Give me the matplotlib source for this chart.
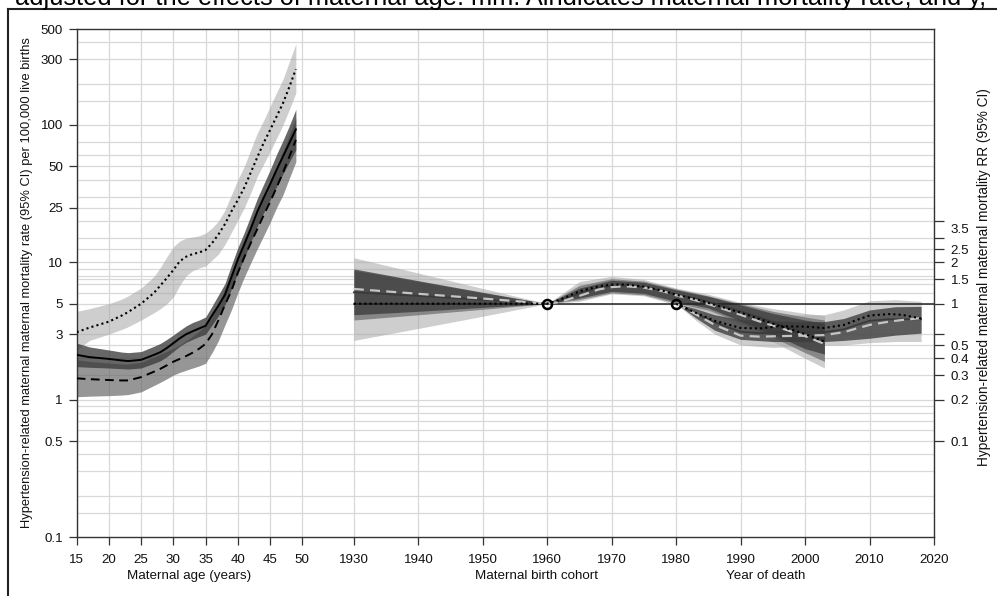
import matplotlib
matplotlib.use("Agg")
import matplotlib.pyplot as plt
from matplotlib.lines import Line2D
from matplotlib.ticker import NullLocator, NullFormatter

plt.rcParams['font.family'] = ['Liberation Sans', 'DejaVu Sans']

# ---------------- data ----------------
title_text = "adjusted for the effects of maternal age. mm: Aindicates maternal mortality rate, and y, "
ylabel_left = "Hypertension-related maternal maternal mortality rate (95% CI) per 100,000 live births"
ylabel_right = "Hypertension-related maternal maternal mortality RR (95% CI)"

age_ticks = [15, 20, 25, 30, 35, 40, 45, 50]
year_ticks = [1930, 1940, 1950, 1960, 1970, 1980, 1990, 2000, 2010, 2020]
rate_ticks = [0.1, 0.5, 1, 3, 5, 10, 25, 50, 100, 300, 500]
rate_grid = [0.15, 0.2, 0.3, 0.4, 0.5, 0.6, 0.7, 0.8, 0.9, 1, 1.5, 2, 2.5, 3, 5, 6, 7, 7.5, 8, 9,
             10, 12.5, 15, 20, 25, 30, 40, 50, 60, 75, 100, 150, 200, 300, 400]
rr_tick_marks = [0.1, 0.2, 0.3, 0.4, 0.5, 0.6, 1, 1.5, 2, 2.5, 3, 4]
rr_tick_labels = [0.1, 0.2, 0.3, 0.4, 0.5, 1, 1.5, 2, 2.5, 3.5]

# Age effects (rate per 100,000)
age = [15, 17, 20, 22, 23, 25, 27, 28, 29, 30, 31, 32, 33, 34, 35, 36, 37, 38, 39, 40,
       41, 42, 43, 44, 45, 46, 47, 48, 49]
age_dot = [3.1, 3.35, 3.7, 4.1, 4.35, 5.0, 6.0, 6.8, 7.7, 8.8, 10.2, 11.0, 11.5, 11.8, 12.3,
           13.8, 16.0, 19.0, 23.5, 28.5, 35, 45, 58, 74, 92, 115, 144, 190, 255]
age_dot_up = [4.4, 4.6, 5.0, 5.4, 5.7, 6.5, 7.9, 9.2, 11.0, 13.0, 14.3, 15.0, 15.3, 15.6, 16.3,
              17.8, 20.0, 24.0, 31.0, 40, 50, 66, 87, 108, 136, 172, 215, 290, 390]
age_dot_lo = [2.3, 2.7, 3.0, 3.25, 3.4, 3.8, 4.3, 4.6, 5.0, 5.6, 6.8, 8.0, 8.7, 9.1, 9.4,
              10.4, 11.5, 13.5, 16.5, 20.3, 25, 32, 42, 52, 64, 80, 100, 130, 171]
age_sol = [2.12, 2.04, 1.98, 1.93, 1.91, 1.95, 2.12, 2.22, 2.38, 2.58, 2.8, 3.0, 3.15, 3.3, 3.45,
           4.1, 4.85, 5.8, 7.8, 10.5, 13.5, 17.6, 23.3, 29.5, 37, 47, 59, 74, 93]
age_sol_up = [2.58, 2.42, 2.3, 2.22, 2.2, 2.24, 2.45, 2.57, 2.75, 2.96, 3.2, 3.45, 3.65, 3.8, 4.0,
              4.8, 5.8, 7.0, 9.5, 12.8, 16.5, 21.8, 29, 37, 47, 61, 77, 99, 130]
age_sol_lo = [1.74, 1.72, 1.70, 1.68, 1.67, 1.70, 1.84, 1.92, 2.06, 2.25, 2.45, 2.62, 2.75, 2.88, 3.0,
              3.5, 4.1, 4.9, 6.4, 8.4, 10.8, 14.0, 18.3, 23, 28.5, 35.5, 44, 54, 66]
age_dash = [1.43, 1.41, 1.39, 1.38, 1.38, 1.46, 1.6, 1.68, 1.78, 1.89, 1.98, 2.08, 2.2, 2.35, 2.55,
            3.0, 3.8, 4.9, 6.2, 8.4, 10.9, 13.8, 17.4, 22, 27.5, 35, 45, 59, 78]
age_dash_up = [1.95, 1.9, 1.85, 1.82, 1.82, 1.87, 2.05, 2.15, 2.25, 2.36, 2.5, 2.7, 2.9, 3.15, 3.45,
               4.0, 5.0, 6.5, 8.4, 11.3, 14.8, 18.8, 24, 30.5, 39, 50, 64, 85, 112]
age_dash_lo = [1.05, 1.06, 1.07, 1.08, 1.09, 1.14, 1.27, 1.34, 1.42, 1.51, 1.58, 1.64, 1.7, 1.76, 1.84,
               2.2, 2.7, 3.5, 4.5, 6.0, 7.8, 9.9, 12.5, 15.6, 19.5, 25, 31, 41, 54]

# Cohort effects (RR)
coh_year = [1930, 1940, 1950, 1960, 1962, 1965, 1968, 1970, 1972, 1975, 1978, 1980, 1983, 1986,
            1990, 1993, 1996, 2000, 2003]
coh_dot = [1.0, 1.0, 1.0, 1.0, 1.07, 1.23, 1.34, 1.375, 1.38, 1.33, 1.24, 1.16, 1.08, 0.98,
           0.86, 0.77, 0.69, 0.60, 0.53]
coh_sol = [1.21, 1.14, 1.07, 1.0, 1.05, 1.19, 1.31, 1.35, 1.36, 1.32, 1.24, 1.17, 1.09, 1.0,
           0.88, 0.79, 0.71, 0.62, 0.55]
coh_dash = [1.28, 1.18, 1.09, 1.0, 1.03, 1.14, 1.27, 1.32, 1.34, 1.31, 1.23, 1.15, 1.06, 0.96,
            0.83, 0.74, 0.67, 0.58, 0.51]
coh_band_year = [1930, 1940, 1950, 1960, 1965, 1970, 1975, 1980, 1985, 1990, 1995, 2000, 2003]
coh_light_up = [2.16, 1.67, 1.29, 1.0, 1.45, 1.58, 1.50, 1.30, 1.17, 1.02, 0.92, 0.85, 0.82]
coh_light_lo = [0.54, 0.66, 0.81, 1.0, 1.04, 1.18, 1.14, 0.98, 0.88, 0.70, 0.53, 0.40, 0.34]
coh_med_up = [1.75, 1.45, 1.20, 1.0, 1.36, 1.52, 1.46, 1.28, 1.14, 1.0, 0.88, 0.80, 0.76]
coh_med_lo = [0.76, 0.83, 0.91, 1.0, 1.07, 1.20, 1.16, 1.01, 0.90, 0.73, 0.57, 0.44, 0.38]
coh_dark_up = [1.79, 1.47, 1.21, 1.0, 1.30, 1.48, 1.43, 1.26, 1.13, 0.98, 0.85, 0.76, 0.72]
coh_dark_lo = [0.83, 0.88, 0.94, 1.0, 1.10, 1.23, 1.19, 1.04, 0.93, 0.75, 0.60, 0.47, 0.43]

# Period effects (RR)
per_year = [1980, 1983, 1986, 1990, 1993, 1996, 2000, 2003, 2006, 2008, 2010, 2013, 2015, 2018]
per_dot = [1.0, 0.86, 0.75, 0.665, 0.66, 0.685, 0.68, 0.665, 0.70, 0.76, 0.82, 0.84, 0.83, 0.78]
per_sol = [1.0, 0.85, 0.73, 0.625, 0.61, 0.62, 0.625, 0.62, 0.65, 0.70, 0.75, 0.77, 0.77, 0.77]
per_dash = [1.0, 0.84, 0.70, 0.585, 0.575, 0.58, 0.585, 0.59, 0.62, 0.66, 0.70, 0.74, 0.76, 0.785]
per_band_year = [1980, 1983, 1986, 1990, 1995, 2000, 2003, 2006, 2010, 2014, 2018]
per_light_up = [1.0, 0.95, 0.88, 0.83, 0.82, 0.83, 0.83, 0.90, 1.05, 1.07, 1.04]
per_light_lo = [1.0, 0.76, 0.60, 0.50, 0.48, 0.49, 0.50, 0.50, 0.52, 0.53, 0.53]
per_dark_up = [1.0, 0.92, 0.83, 0.765, 0.75, 0.74, 0.74, 0.78, 0.90, 0.95, 0.955]
per_dark_lo = [1.0, 0.79, 0.64, 0.55, 0.53, 0.53, 0.53, 0.54, 0.56, 0.59, 0.61]

ref_years = [1960, 1980]

# ---------------- layout ----------------
W, H = 997, 596
OFF = 1872          # years are placed on the age scale at (year - OFF)
L, R, T, B = 76.7, 934, 29, 537

fig = plt.figure(figsize=(W / 100, H / 100), dpi=100)
ax = fig.add_axes([L / W, 1 - B / H, (R - L) / W, (B - T) / H])
ax.set_yscale('log')
ax.set_ylim(0.1, 500)
ax.set_xlim(15, 2020 - OFF)

GRID = '#d8d8d8'
for gx in age_ticks + [y - OFF for y in year_ticks]:
    ax.axvline(gx, color=GRID, lw=0.9, zorder=0)
for gy in rate_grid:
    ax.axhline(gy, color=GRID, lw=0.9, zorder=0)

LIGHT = dict(color='#a6a6a6', alpha=0.55, lw=0)
MED = dict(color='#6a6a6a', alpha=0.70, lw=0)
DARK = dict(color='#3c3c3c', alpha=0.78, lw=0)

DOT = dict(color='black', lw=1.5, linestyle=(0, (1, 1.5)), dash_capstyle='butt')

# age panel
ax.fill_between(age, age_dot_lo, age_dot_up, zorder=1, **LIGHT)
ax.fill_between(age, age_dash_lo, age_dash_up, zorder=1.1, **MED)
ax.fill_between(age, age_sol_lo, age_sol_up, zorder=1.2, **DARK)
ax.plot(age, age_sol, color='black', lw=1.4, zorder=4)
ax.plot(age, age_dash, color='black', lw=1.4, linestyle=(0, (4.5, 2.8)), zorder=4)
ax.plot(age, age_dot, zorder=5, **DOT)

for s in ax.spines.values():
    s.set_color('#333333')
    s.set_linewidth(1.0)

ax.set_yticks(rate_ticks)
ax.set_yticklabels([('%g' % v) for v in rate_ticks])
ax.yaxis.set_minor_locator(NullLocator())
ax.yaxis.set_minor_formatter(NullFormatter())
xt = age_ticks + [y - OFF for y in year_ticks]
ax.set_xticks(xt)
ax.set_xticklabels([str(a) for a in age_ticks] + [str(y) for y in year_ticks])
ax.tick_params(axis='both', length=6, width=0.9, color='#333333', labelsize=9.6,
               pad=4, labelcolor='#111111')
ax.tick_params(axis='x', pad=6)

# cohort / period panel (RR axis)
ax2 = ax.twinx()
ax2.set_yscale('log')
ax2.set_ylim(0.1 / 5, 500 / 5)
ax2.set_xlim(15, 2020 - OFF)

cx = [y - OFF for y in coh_band_year]
ax2.fill_between(cx, coh_light_lo, coh_light_up, zorder=1, **LIGHT)
ax2.fill_between(cx, coh_med_lo, coh_med_up, zorder=1.1, **MED)
ax2.fill_between(cx, coh_dark_lo, coh_dark_up, zorder=1.2, **DARK)
px = [y - OFF for y in per_band_year]
ax2.fill_between(px, per_light_lo, per_light_up, zorder=1, **LIGHT)
ax2.fill_between(px, per_dark_lo, per_dark_up, zorder=1.2, **DARK)

ax2.plot([1930 - OFF, 2020 - OFF], [1, 1], color='#222222', lw=1.1, zorder=3)

for yrs, sol, dash, dot in [(coh_year, coh_sol, coh_dash, coh_dot),
                            (per_year, per_sol, per_dash, per_dot)]:
    xx = [y - OFF for y in yrs]
    ax2.plot(xx, sol, color='#3a3a3a', lw=1.3, zorder=4)
    ax2.plot(xx, dash, color='#c4c4c4', lw=1.6, linestyle=(0, (4.5, 2.8)), zorder=4.5)
    ax2.plot(xx, dot, zorder=5, **DOT)

ax2.plot([y - OFF for y in ref_years], [1, 1], 'o', mfc='none', mec='black',
         ms=6.5, mew=1.8, zorder=6)

for s in ax2.spines.values():
    s.set_visible(False)
ax2.yaxis.remove_overlapping_locs = False
ax2.set_yticks(rr_tick_marks)
ax2.set_yticklabels([''] * len(rr_tick_marks))
ax2.set_yticks(rr_tick_labels, minor=True)
ax2.set_yticklabels([('%g' % v) for v in rr_tick_labels], minor=True)
ax2.tick_params(axis='y', which='major', length=7, width=0.9, color='#333333')
ax2.tick_params(axis='y', which='minor', length=0, pad=12, labelsize=9.6,
                labelcolor='#111111')

# axis titles
fig.text(27 / W, 1 - 283 / H, ylabel_left, rotation=90, ha='center', va='center',
         fontsize=9.3, color='#111111')
fig.text(984 / W, 1 - 277 / H, ylabel_right, rotation=90, ha='center', va='center',
         fontsize=9.8, color='#111111')
fig.text(189 / W, 1 - 576 / H, 'Maternal age (years)', ha='center', va='center',
         fontsize=9.6, color='#111111')
fig.text(536 / W, 1 - 576 / H, 'Maternal birth cohort', ha='center', va='center',
         fontsize=9.6, color='#111111')
fig.text(766 / W, 1 - 576 / H, 'Year of death', ha='center', va='center',
         fontsize=9.6, color='#111111')

# clipped caption at the very top and surrounding frame
t = fig.text(15 / W, 1 - 5 / H, title_text, ha='left', va='baseline', fontsize=16,
             color='black')
fig.canvas.draw()
bb = t.get_window_extent()
t.set_fontsize(16 * 975 / bb.width)

fig.add_artist(Line2D([8 / W, 8 / W], [0, 1 - 9 / H], color='#222222', lw=1.5))
fig.add_artist(Line2D([8 / W, 1], [1 - 9 / H, 1 - 9 / H], color='#222222', lw=1.5))

fig.savefig('out.png', dpi=100)
